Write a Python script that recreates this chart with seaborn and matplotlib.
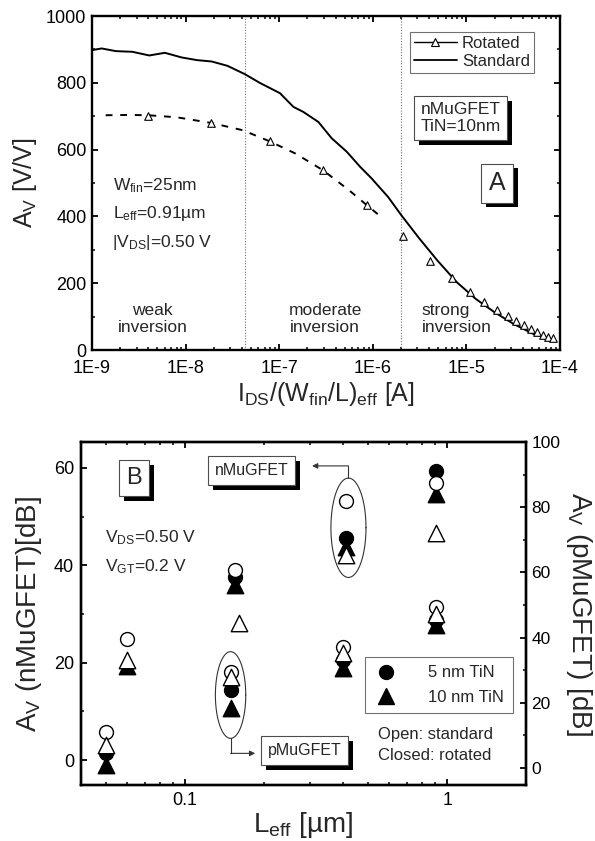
import numpy as np
import pandas as pd
import matplotlib
matplotlib.use("Agg")
import matplotlib.pyplot as plt
import matplotlib.patheffects as pe
from matplotlib.lines import Line2D
from matplotlib.ticker import LogLocator, MultipleLocator, NullFormatter
import seaborn as sns

# ---- panel A: gain vs normalised current ----
std_ids = [1.0e-9, 1.27e-9, 1.8e-9, 2.7e-9, 4.1e-9, 6.0e-9, 9.1e-9, 1.33e-8, 1.9e-8,
           2.8e-8, 4.3e-8, 6.2e-8, 1.02e-7, 1.42e-7, 1.81e-7, 2.62e-7, 3.64e-7, 5.26e-7,
           7.3e-7, 9.7e-7, 1.46e-6, 2.0e-6, 3.1e-6, 4.9e-6, 7.9e-6, 1.26e-5,
           2.0e-5, 3.2e-5, 5.2e-5, 8.7e-5]
std_av = [898, 903, 895, 893, 882, 890, 876, 868, 864, 851, 826, 800, 769, 728, 713,
          683, 634, 594, 549, 514, 458, 405, 336, 268, 203, 153, 113, 78, 48, 30]

rot_ids = [4.0e-9, 1.88e-8, 7.9e-8, 2.95e-7, 8.7e-7, 2.12e-6, 4.1e-6, 7.1e-6, 1.1e-5,
           1.55e-5, 2.1e-5, 2.8e-5, 3.4e-5, 4.1e-5, 4.9e-5, 5.7e-5, 6.5e-5, 7.5e-5, 8.5e-5]
rot_av = [700, 680, 625, 540, 433, 340, 268, 215, 175, 145, 120, 103, 88, 75, 63, 53,
          45, 38, 35]

fit_ids = [1.4e-9, 2.5e-9, 4.0e-9, 8.0e-9, 1.88e-8, 4.1e-8, 7.9e-8, 1.5e-7, 2.95e-7,
           5.6e-7, 8.7e-7, 1.3e-6]
fit_av = [703, 704, 703, 697, 680, 658, 625, 588, 538, 478, 433, 393]

region_bounds = [4.3e-8, 2.0e-6]
a_xticks = [1e-9, 1e-8, 1e-7, 1e-6, 1e-5, 1e-4]
a_xticklabels = ["1E-9", "1E-8", "1E-7", "1E-6", "1E-5", "1E-4"]
a_yticks = [0, 200, 400, 600, 800, 1000]

# ---- panel B: gain vs channel length ----
# nMuGFET, left axis [dB]
n_leff = [0.06, 0.155, 0.41, 0.91]
n_leff_tri_open = [0.06, 0.16, 0.41, 0.91]
n_std5 = [24.8, 39.1, 53.2, 56.9]
n_rot5 = [np.nan, 37.6, 45.7, 59.4]
n_std10 = [20.5, 28.1, 42.1, 46.7]
n_rot10 = [19.3, 35.9, 43.7, 54.6]
# pMuGFET, right axis [dB]
p_leff = [0.05, 0.15, 0.40, 0.91]
p_std5 = [11.1, 29.5, 37.0, 49.5]
p_rot5 = [4.6, 23.9, 33.1, 45.4]
p_std10 = [7.1, 28.0, 35.2, 47.4]
p_rot10 = [0.8, 18.3, 30.6, 43.9]

b_xticks = [0.1, 1]
b_xticklabels = ["0.1", "1"]
b_left_ticks = [0, 20, 40, 60]
b_right_ticks = [0, 20, 40, 60, 80, 100]

sns.set_theme(style="ticks")
plt.rcParams["font.family"] = ["Liberation Sans", "DejaVu Sans"]
plt.rcParams.update({
    "mathtext.fontset": "custom",
    "mathtext.rm": "Liberation Sans",
    "mathtext.it": "Liberation Sans:italic",
    "mathtext.bf": "Liberation Sans:bold",
    "axes.linewidth": 1.7,
    "axes.edgecolor": "black",
    "xtick.direction": "in",
    "ytick.direction": "in",
    "xtick.major.size": 4.5,
    "ytick.major.size": 4.5,
    "xtick.minor.size": 2.5,
    "ytick.minor.size": 2.5,
    "xtick.major.width": 1.3,
    "ytick.major.width": 1.3,
    "xtick.minor.width": 1.1,
    "ytick.minor.width": 1.1,
    "xtick.color": "black",
    "ytick.color": "black",
})

fig = plt.figure(figsize=(5.95, 8.41), dpi=100)
shadow = [pe.withSimplePatchShadow(offset=(3.5, -3.5), shadow_rgbFace="black", alpha=1.0)]

# ================= panel A =================
ax = fig.add_axes([0.1546, 0.5838, 0.7866, 0.3971])
ax.set_xscale("log")

df_std = pd.DataFrame({"ids": std_ids, "av": std_av})
df_fit = pd.DataFrame({"ids": fit_ids, "av": fit_av})
df_rot = pd.DataFrame({"ids": rot_ids, "av": rot_av})

for xb in region_bounds:
    ax.axvline(xb, color="0.45", lw=0.8, ls=(0, (1, 1.5)), zorder=1)

sns.lineplot(data=df_std, x="ids", y="av", ax=ax, color="black", lw=1.4,
             estimator=None, sort=False, zorder=3)
sns.lineplot(data=df_fit, x="ids", y="av", ax=ax, color="black", lw=1.4,
             estimator=None, sort=False, zorder=3, dashes=False, linestyle=(0, (3.5, 4)))
sns.scatterplot(data=df_rot, x="ids", y="av", ax=ax, marker="^", s=30,
                color="white", edgecolor="black", linewidth=0.8, zorder=4)

ax.set_xlim(1e-9, 1e-4)
ax.set_ylim(0, 1000)
ax.set_xticks(a_xticks)
ax.set_xticklabels(a_xticklabels)
ax.xaxis.set_minor_locator(LogLocator(base=10, subs=np.arange(2, 10), numticks=20))
ax.xaxis.set_minor_formatter(NullFormatter())
ax.set_yticks(a_yticks)
ax.yaxis.set_minor_locator(MultipleLocator(100))
ax.tick_params(which="both", top=True, right=True, labelsize=13)
ax.tick_params(axis="x", pad=7)
ax.tick_params(axis="y", pad=4)
ax.set_xlabel(r"I$_{\mathrm{DS}}$/(W$_{\mathrm{fin}}$/L)$_{\mathrm{eff}}$ [A]", fontsize=18, labelpad=2)
ax.set_ylabel(r"A$_{\mathrm{V}}$ [V/V]", fontsize=18, labelpad=5)

ax.text(0.045, 0.493, r"W$_{\mathrm{fin}}$=25nm", transform=ax.transAxes, fontsize=12.5,
        va="center", ha="left")
ax.text(0.045, 0.408, r"L$_{\mathrm{eff}}$=0.91µm", transform=ax.transAxes, fontsize=12.5,
        va="center", ha="left")
ax.text(0.042, 0.323, r"|V$_{\mathrm{DS}}$|=0.50 V", transform=ax.transAxes, fontsize=12.5,
        va="center", ha="left")

ax.text(0.13, 0.092, "weak\ninversion", transform=ax.transAxes, fontsize=12.5,
        ha="center", va="center", linespacing=1.15)
ax.text(0.498, 0.092, "moderate\ninversion", transform=ax.transAxes, fontsize=12.5,
        ha="center", va="center", linespacing=1.15)
ax.text(0.704, 0.092, "strong\ninversion", transform=ax.transAxes, fontsize=12.5,
        ha="left", va="center", linespacing=1.15)

t = ax.text(0.702, 0.695, "nMuGFET\nTiN=10nm", transform=ax.transAxes, fontsize=12.5,
            ha="left", va="center", linespacing=1.2,
            bbox=dict(boxstyle="square,pad=0.35", fc="white", ec="0.3", lw=0.8))
t.get_bbox_patch().set_path_effects(shadow)
t = ax.text(0.866, 0.5, "A", transform=ax.transAxes, fontsize=18, ha="center", va="center",
            bbox=dict(boxstyle="square,pad=0.3", fc="white", ec="0.3", lw=0.8))
t.get_bbox_patch().set_path_effects(shadow)

handles_a = [
    Line2D([], [], color="black", lw=1.0, marker="^", ms=6, mfc="white", mec="black", mew=0.8),
    Line2D([], [], color="black", lw=1.3),
]
leg = ax.legend(handles_a, ["Rotated", "Standard"], loc="upper right",
                bbox_to_anchor=(0.945, 0.952), fontsize=12, frameon=True, fancybox=False,
                edgecolor="0.3", handlelength=2.6, handletextpad=0.3, borderpad=0.25,
                labelspacing=0.15, borderaxespad=0)
leg.get_frame().set_linewidth(0.8)

# ================= panel B =================
bx = fig.add_axes([0.1361, 0.0666, 0.7479, 0.4078])
bx.set_xscale("log")
bx2 = bx.twinx()

def dots(axis, xs, ys, marker, filled, size):
    face = "black" if filled else "white"
    sns.scatterplot(x=xs, y=ys, ax=axis, marker=marker, s=size, color=face,
                    edgecolor="black", linewidth=1.0, zorder=3 if filled else 4)

dots(bx, n_leff, n_rot5, "o", True, 100)
dots(bx, n_leff, n_rot10, "^", True, 140)
dots(bx, n_leff, n_std5, "o", False, 100)
dots(bx, n_leff_tri_open, n_std10, "^", False, 140)

dots(bx2, p_leff, p_rot5, "o", True, 100)
dots(bx2, p_leff, p_rot10, "^", True, 140)
dots(bx2, p_leff, p_std5, "o", False, 100)
dots(bx2, p_leff, p_std10, "^", False, 140)

bx.set_xlim(0.04, 2.0)
bx.set_ylim(-5.1, 65.3)
bx2.set_ylim(-5.2, 100)
bx.set_xticks(b_xticks)
bx.set_xticklabels(b_xticklabels)
bx.xaxis.set_minor_locator(LogLocator(base=10, subs=np.arange(2, 10), numticks=20))
bx.xaxis.set_minor_formatter(NullFormatter())
bx.set_yticks(b_left_ticks)
bx.yaxis.set_minor_locator(MultipleLocator(10))
bx2.set_yticks(b_right_ticks)
bx2.yaxis.set_minor_locator(MultipleLocator(10))
bx.tick_params(which="both", top=True, right=False, labelsize=13, pad=5)
bx2.tick_params(which="both", labelsize=12.5, pad=4)
for s in bx2.spines.values():
    s.set_linewidth(1.7)

bx.set_xlabel(r"L$_{\mathrm{eff}}$ [µm]", fontsize=20, labelpad=1)
bx.set_ylabel(r"A$_{\mathrm{V}}$ (nMuGFET)[dB]", fontsize=20, labelpad=7)
bx2.set_ylabel(r"A$_{\mathrm{V}}$ (pMuGFET) [dB]", fontsize=20, rotation=270, labelpad=24)

# ellipses around the highlighted groups
theta = np.linspace(0, 2 * np.pi, 200)
bx.plot(0.42 * 10 ** (0.067 * np.cos(theta)), 47.7 + 10.2 * np.sin(theta),
        color="0.2", lw=0.8, zorder=2)
bx2.plot(0.149 * 10 ** (0.058 * np.cos(theta)), 22.4 + 13.3 * np.sin(theta),
         color="0.2", lw=0.8, zorder=2)

bx.plot([0.42, 0.42], [57.9, 60.4], color="0.2", lw=0.8)
bx.annotate("", xy=(0.305, 60.4), xytext=(0.42, 60.4),
            arrowprops=dict(arrowstyle="-|>", color="0.2", lw=0.8, mutation_scale=8,
                            shrinkA=0, shrinkB=0))
bx2.plot([0.149, 0.149], [9.1, 4.5], color="0.2", lw=0.8)
bx2.annotate("", xy=(0.185, 4.5), xytext=(0.149, 4.5),
             arrowprops=dict(arrowstyle="-|>", color="0.2", lw=0.8, mutation_scale=8,
                             shrinkA=0, shrinkB=0))

t = bx.text(0.383, 0.917, "nMuGFET", transform=bx.transAxes, fontsize=11.5,
            ha="center", va="center",
            bbox=dict(boxstyle="square,pad=0.42", fc="white", ec="0.3", lw=0.8))
t.get_bbox_patch().set_path_effects(shadow)
t = bx.text(0.503, 0.10, "pMuGFET", transform=bx.transAxes, fontsize=11.5,
            ha="center", va="center",
            bbox=dict(boxstyle="square,pad=0.42", fc="white", ec="0.3", lw=0.8))
t.get_bbox_patch().set_path_effects(shadow)
t = bx.text(0.12, 0.895, "B", transform=bx.transAxes, fontsize=17, ha="center", va="center",
            bbox=dict(boxstyle="square,pad=0.3", fc="white", ec="0.3", lw=0.8))
t.get_bbox_patch().set_path_effects(shadow)

bx.text(0.055, 0.722, r"V$_{\mathrm{DS}}$=0.50 V", transform=bx.transAxes, fontsize=12.5,
        ha="left", va="center")
bx.text(0.055, 0.637, r"V$_{\mathrm{GT}}$=0.2 V", transform=bx.transAxes, fontsize=12.5,
        ha="left", va="center")
bx.text(0.668, 0.148, "Open: standard", transform=bx.transAxes, fontsize=12,
        ha="left", va="center")
bx.text(0.668, 0.085, "Closed: rotated", transform=bx.transAxes, fontsize=12,
        ha="left", va="center")

handles_b = [
    Line2D([], [], ls="none", marker="o", ms=10, mfc="black", mec="black"),
    Line2D([], [], ls="none", marker="^", ms=11.5, mfc="black", mec="black"),
]
leg = bx2.legend(handles_b, ["5 nm TiN", "10 nm TiN"], loc="lower right",
                 bbox_to_anchor=(0.97, 0.21), fontsize=12, frameon=True, fancybox=False,
                 edgecolor="0.3", handlelength=1.5, handletextpad=1.8, borderpad=0.5,
                 labelspacing=0.55, borderaxespad=0)
leg.get_frame().set_linewidth(0.8)

fig.savefig("out.png", dpi=100)
